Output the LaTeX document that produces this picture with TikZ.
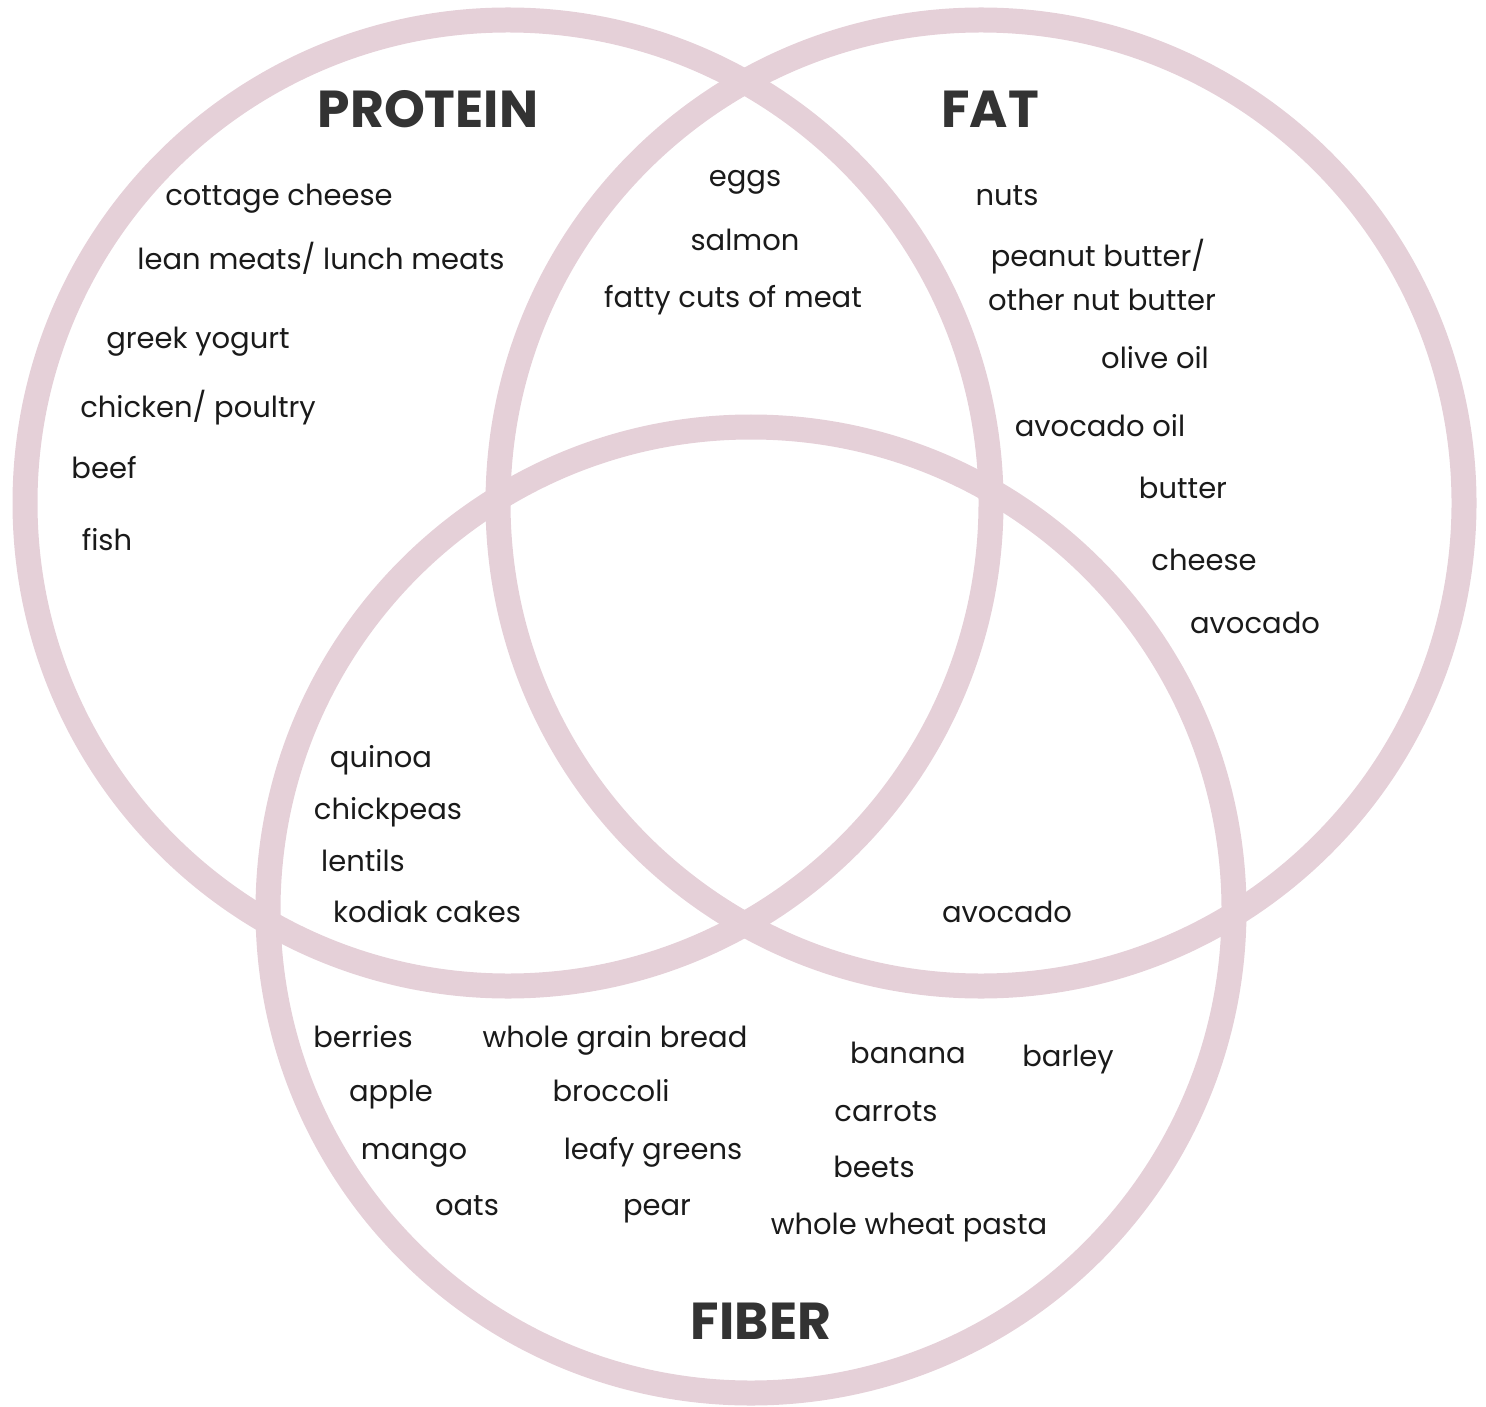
\documentclass[tikz,border=0pt]{standalone}
\usepackage{fontspec}
\setmainfont{Poppins}
\newfontfamily\hdfont{Poppins}
\definecolor{ring}{HTML}{E5D0D8}
\definecolor{hdcol}{HTML}{333333}
\definecolor{itemcol}{HTML}{1A1A1A}
\begin{document}
\begin{tikzpicture}[x=0.5pt,y=-0.5pt,
  ringline/.style={draw=ring,line width=12.5pt},
  item/.style={anchor=mid,inner sep=0pt,text=itemcol,font=\fontsize{14.5}{17}\selectfont,yshift=-2.5pt},
  head/.style={anchor=mid,inner sep=0pt,text=hdcol,font=\hdfont\bfseries\fontsize{26}{30}\selectfont}]
\useasboundingbox (0,0) rectangle (1486,1406);
\coordinate (cp) at (508,503);
\coordinate (cf) at (981,503);
\coordinate (cb) at (751,910);
\draw[ringline] (cp) circle[radius=241.5pt];
\draw[ringline] (cf) circle[radius=241.5pt];
\draw[ringline] (cb) circle[radius=241.5pt];
\node[head] (hp) at (428,122) {PROTEIN};
\node[head] (hf) at (990,122) {FAT};
\node[head] (hb) at (761,1334) {FIBER};
% protein
\node[item] (p1) at (279,195) {cottage cheese};
\node[item] (p2) at (321,259) {lean meats/ lunch meats};
\node[item] (p3) at (198,338) {greek yogurt};
\node[item] (p4) at (198,407) {chicken/ poultry};
\node[item] (p5) at (104,468) {beef};
\node[item] (p6) at (107,540) {fish};
% protein-fat
\node[item] (pf1) at (745,176) {eggs};
\node[item] (pf2) at (745,240) {salmon};
\node[item] (pf3) at (733,297) {fatty cuts of meat};
% fat
\node[item] (f1) at (1007,195) {nuts};
\node[item] (f2) at (1098,256) {peanut butter/};
\node[item] (f3) at (1102,300) {other nut butter};
\node[item] (f4) at (1155,358) {olive oil};
\node[item] (f5) at (1100,426) {avocado oil};
\node[item] (f6) at (1183,488) {butter};
\node[item] (f7) at (1204,560) {cheese};
\node[item] (f8) at (1255,623) {avocado};
% protein-fiber
\node[item] (pb1) at (381,757) {quinoa};
\node[item] (pb2) at (388,809) {chickpeas};
\node[item] (pb3) at (363,861) {lentils};
\node[item] (pb4) at (427,912) {kodiak cakes};
% fat-fiber
\node[item] (fb1) at (1007,912) {avocado};
% fiber
\node[item] (b1) at (363,1037) {berries};
\node[item] (b2) at (391,1091) {apple};
\node[item] (b3) at (414,1149) {mango};
\node[item] (b4) at (467,1205) {oats};
\node[item] (b5) at (615,1037) {whole grain bread};
\node[item] (b6) at (611,1091) {broccoli};
\node[item] (b7) at (653,1149) {leafy greens};
\node[item] (b8) at (657,1205) {pear};
\node[item] (b9) at (908,1053) {banana};
\node[item] (b10) at (1068,1056) {barley};
\node[item] (b11) at (886,1111) {carrots};
\node[item] (b12) at (874,1167) {beets};
\node[item] (b13) at (909,1224) {whole wheat pasta};
\end{tikzpicture}
\end{document}
